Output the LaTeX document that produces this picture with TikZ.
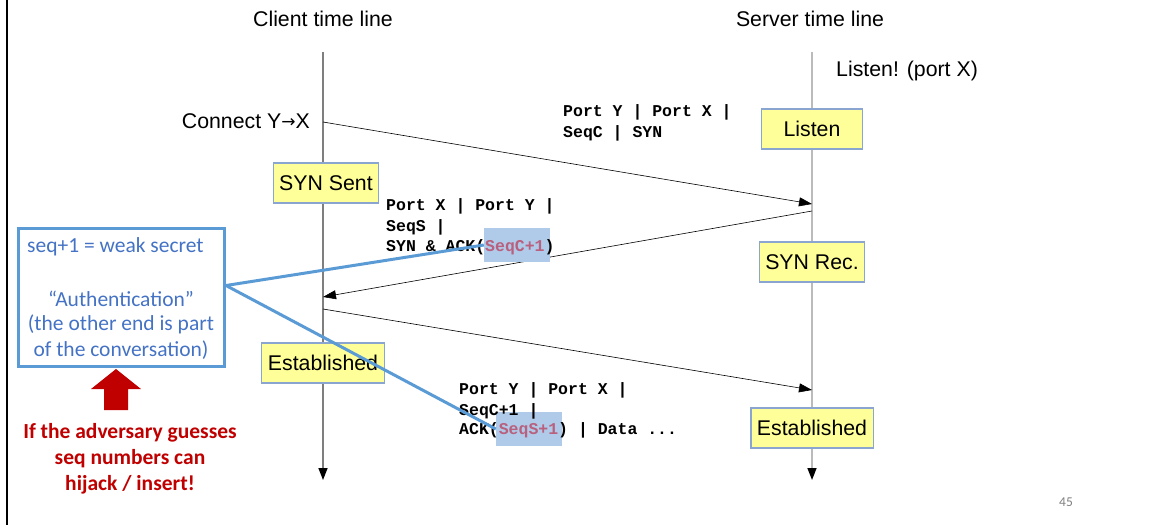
\documentclass[tikz,border=0pt]{standalone}
\usepackage{fontspec}
\setmainfont{Liberation Sans}
\newfontfamily\monofont{Liberation Mono}
\newfontfamily\calibfont{Carlito}
\newfontfamily\symfont{DejaVu Sans}
\usetikzlibrary{arrows.meta}

\definecolor{stateyellow}{HTML}{FFFF99}
\definecolor{boxedge}{HTML}{8AA6D0}
\definecolor{noteblue}{HTML}{5B9BD5}
\definecolor{notetext}{HTML}{4472C4}
\definecolor{hlblue}{HTML}{AFCBE9}
\definecolor{seqred}{HTML}{B8607E}
\definecolor{warnred}{HTML}{C00000}
\definecolor{clientgray}{HTML}{7F7F7F}
\definecolor{servergray}{HTML}{BBBBBB}

\begin{document}
\begin{tikzpicture}[x=1pt,y=-1pt,
  lbl/.style={font=\fontsize{21.3}{25}\selectfont, inner sep=0},
  statebox/.style={draw=boxedge, line width=1.1pt, fill=stateyellow,
    minimum width=101pt, minimum height=40pt, inner xsep=6pt,
    font=\fontsize{21.3}{25}\selectfont},
  pkt/.style={font=\monofont\bfseries\fontsize{16.5}{20.5}\selectfont,
    inner sep=0, anchor=base west},
  hl/.style={fill=hlblue, inner sep=0},
  msg/.style={draw=black, line width=0.6pt, -{Triangle[length=13pt,width=9pt]}},
  lifeline/.style={line width=1.5pt, -{Triangle[length=12pt,width=9pt,color=black]}},
  note/.style={font=\calibfont\fontsize{21.5}{26}\selectfont, text=notetext, inner sep=0},
  warn/.style={font=\calibfont\bfseries\fontsize{21.5}{26}\selectfont,
    text=warnred, align=center, inner sep=0},
  callline/.style={draw=noteblue, line width=3pt}]
\useasboundingbox (0,0) rectangle (1158,525);

% left frame edge
\draw[line width=2.5pt] (7,0) -- (7,525);

% time lines
\coordinate (ctop) at (323,52);
\coordinate (cbot) at (323,480);
\coordinate (stop) at (812,52);
\coordinate (sbot) at (812,480);
\draw[lifeline, draw=clientgray] (ctop) -- (cbot);
\draw[lifeline, draw=servergray] (stop) -- (sbot);

\node[lbl] (chead) at (323,19) {Client time line};
\node[lbl] (shead) at (810,19) {Server time line};
\node[lbl, anchor=west] (listenx) at (836,71) {Listen! (port X)};
\node[lbl, anchor=east] (connect) at (310,121)
  {Connect Y{\symfont\fontsize{17}{17}\selectfont\raisebox{1pt}{→}}X};

% connection states
\node[statebox] (listen) at (812,129) {Listen};
\node[statebox] (synsent) at (326,183) {SYN Sent};
\node[statebox] (synrec) at (812,262) {SYN Rec.};
\node[statebox] (cest) at (323,363) {Established};
\node[statebox] (sest) at (812,428) {Established};

% handshake segments
\coordinate (c1) at (323,122);
\coordinate (s1) at (812,204);
\coordinate (s2) at (812,211);
\coordinate (c2) at (323,297);
\coordinate (c3) at (323,309);
\coordinate (s3) at (812,390);
\draw[msg] (c1) -- (s1);
\draw[msg] (s2) -- (c2);
\draw[msg] (c3) -- (s3);

% highlighted acknowledgement numbers
\node[hl, minimum width=66pt, minimum height=34pt] (hl1) at (517,245) {};
\node[hl, minimum width=66pt, minimum height=34pt] (hl2) at (529,429) {};

% segment headers
\node[pkt] (p1a) at (563,116) {Port Y | Port X |};
\node[pkt] (p1b) at (563,137) {SeqC | SYN};

\node[pkt] (p2a) at (386,210) {Port X | Port Y |};
\node[pkt] (p2b) at (386,231) {SeqS |};
\node[pkt] (p2c) at (386,251) {SYN \& ACK({\color{seqred}SeqC+1})};

\node[pkt] (p3a) at (459,394) {Port Y | Port X |};
\node[pkt] (p3b) at (459,415) {SeqC+1 |};
\node[pkt] (p3c) at (459,434) {ACK({\color{seqred}SeqS+1}) | Data ...};

% explanation box
\node[draw=noteblue, line width=3pt, minimum width=206pt, minimum height=138pt,
  inner sep=0] (callout) at (121.5,297.5) {};
\node[note, anchor=west] (n1) at (27,247) {seq+1 = weak secret};
\node[note] (n2) at (121,299) {“Authentication”};
\node[note] (n3) at (121,324) {(the other end is part};
\node[note] (n4) at (121,350) {of the conversation)};

\draw[callline] ([yshift=12pt]callout.east) -- (hl1.west);
\draw[callline] ([yshift=12pt]callout.east) -- (hl2.west);

% warning
\fill[warnred] (104,410) -- (104,389) -- (91,389) -- (116,369)
  -- (141,389) -- (128,389) -- (128,410) -- cycle;
\node[warn] (warning) at (130,459)
  {If the adversary guesses\\seq numbers can\\hijack / insert!};

% slide number
\node[font=\calibfont\fontsize{13.5}{15}\selectfont, text=gray, inner sep=0]
  (pageno) at (1066,502) {45};
\end{tikzpicture}
\end{document}
